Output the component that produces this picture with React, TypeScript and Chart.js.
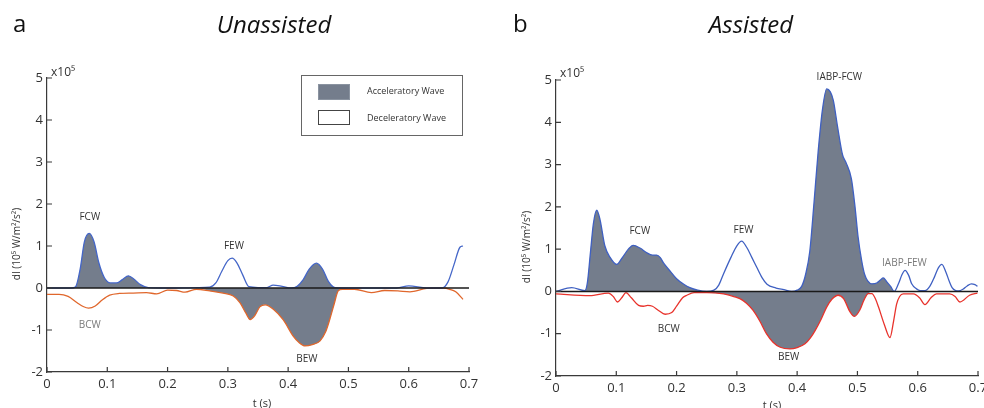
import React, { useEffect, useRef } from "react";
import { Chart, registerables } from "chart.js";

Chart.register(...registerables);

const FONT = '"Open Sans", "Noto Sans", "DejaVu Sans", sans-serif';
const FILL = "rgb(116,125,140)";
const TEXT = "#333333";

// ---------- Panel a : Unassisted ----------
const tForwardA = [0, 0.04, 0.047, 0.055, 0.062, 0.07, 0.078, 0.086, 0.095, 0.105, 0.115, 0.125, 0.135, 0.145, 0.155, 0.168, 0.2, 0.25, 0.27, 0.28, 0.29, 0.3, 0.307, 0.315, 0.325, 0.335, 0.35, 0.365, 0.375, 0.39, 0.405, 0.415, 0.425, 0.435, 0.447, 0.457, 0.467, 0.478, 0.5, 0.58, 0.6, 0.63, 0.655, 0.665, 0.675, 0.685, 0.69];
const dIForwardA = [0, 0, 0.02, 0.45, 1.1, 1.3, 1.1, 0.6, 0.25, 0.12, 0.12, 0.2, 0.29, 0.2, 0.08, 0.01, 0, 0.01, 0.02, 0.12, 0.4, 0.65, 0.71, 0.6, 0.3, 0.03, 0.01, 0.01, 0.07, 0.04, 0, 0.04, 0.2, 0.45, 0.59, 0.45, 0.15, 0.01, 0, 0, 0.05, 0, 0, 0.14, 0.55, 0.97, 1.0];
const tBackwardA = [0, 0.02, 0.035, 0.05, 0.06, 0.069, 0.08, 0.092, 0.104, 0.12, 0.143, 0.165, 0.182, 0.2, 0.215, 0.229, 0.248, 0.27, 0.292, 0.309, 0.32, 0.33, 0.337, 0.345, 0.353, 0.362, 0.375, 0.392, 0.409, 0.418, 0.428, 0.44, 0.453, 0.462, 0.469, 0.476, 0.483, 0.49, 0.51, 0.538, 0.56, 0.582, 0.602, 0.63, 0.658, 0.668, 0.678, 0.69];
const dIBackwardA = [-0.15, -0.15, -0.2, -0.35, -0.44, -0.48, -0.43, -0.28, -0.17, -0.13, -0.12, -0.11, -0.14, -0.05, -0.06, -0.1, -0.03, -0.07, -0.12, -0.19, -0.35, -0.6, -0.75, -0.65, -0.45, -0.4, -0.5, -0.76, -1.16, -1.3, -1.38, -1.35, -1.26, -1.05, -0.75, -0.4, -0.07, -0.03, -0.03, -0.11, -0.06, -0.07, -0.09, -0.01, 0, -0.03, -0.09, -0.27];
const accelForwardA = [[0.04, 0.168], [0.405, 0.5]];
const accelBackwardA = [[0.27, 0.49]];

// ---------- Panel b : Assisted ----------
const tForwardB = [0, 0.026, 0.048, 0.052, 0.057, 0.062, 0.0675, 0.073, 0.081, 0.09, 0.1007, 0.11, 0.12, 0.128, 0.14, 0.15, 0.16, 0.167, 0.173, 0.178, 0.19, 0.2, 0.212, 0.222, 0.235, 0.25, 0.262, 0.27, 0.278, 0.29, 0.3, 0.308, 0.316, 0.325, 0.333, 0.342, 0.35, 0.365, 0.378, 0.391, 0.4, 0.4075, 0.414, 0.421, 0.428, 0.435, 0.442, 0.449, 0.455, 0.46, 0.467, 0.4755, 0.481, 0.49, 0.496, 0.501, 0.507, 0.512, 0.517, 0.524, 0.532, 0.538, 0.543, 0.548, 0.555, 0.561, 0.568, 0.574, 0.579, 0.585, 0.59, 0.598, 0.604, 0.612, 0.62, 0.628, 0.634, 0.64, 0.647, 0.652, 0.657, 0.663, 0.668, 0.675, 0.682, 0.689, 0.695, 0.699];
const dIForwardB = [0, 0.09, 0.02, 0.2, 0.9, 1.6, 1.92, 1.7, 1.08, 0.8, 0.64, 0.8, 1.0, 1.09, 1.02, 0.92, 0.86, 0.86, 0.8, 0.68, 0.47, 0.3, 0.17, 0.09, 0.03, 0, 0.03, 0.15, 0.42, 0.8, 1.08, 1.19, 1.05, 0.8, 0.57, 0.32, 0.17, 0.08, 0.04, 0, 0.03, 0.12, 0.4, 0.95, 2.1, 3.33, 4.3, 4.79, 4.72, 4.52, 3.9, 3.22, 3.05, 2.66, 2.0, 1.3, 0.73, 0.4, 0.25, 0.18, 0.2, 0.27, 0.32, 0.24, 0.12, 0, 0.18, 0.4, 0.5, 0.38, 0.18, 0.06, 0.02, 0.02, 0.12, 0.35, 0.55, 0.64, 0.45, 0.25, 0.09, 0.02, 0.01, 0.05, 0.13, 0.18, 0.16, 0.12];
const tBackwardB = [0, 0.056, 0.087, 0.095, 0.102, 0.109, 0.116, 0.125, 0.137, 0.145, 0.152, 0.16, 0.17, 0.181, 0.192, 0.2, 0.21, 0.217, 0.229, 0.25, 0.278, 0.295, 0.305, 0.316, 0.327, 0.338, 0.349, 0.36, 0.372, 0.388, 0.4, 0.413, 0.422, 0.43, 0.44, 0.449, 0.458, 0.468, 0.477, 0.488, 0.495, 0.504, 0.511, 0.518, 0.524, 0.53, 0.535, 0.545, 0.554, 0.56, 0.565, 0.57, 0.576, 0.593, 0.603, 0.612, 0.622, 0.631, 0.653, 0.662, 0.67, 0.686, 0.699];
const dIBackwardB = [-0.06, -0.1, -0.04, -0.12, -0.25, -0.15, -0.03, -0.15, -0.33, -0.35, -0.33, -0.35, -0.45, -0.54, -0.5, -0.35, -0.15, -0.09, -0.03, -0.03, -0.06, -0.12, -0.17, -0.28, -0.45, -0.7, -1.0, -1.2, -1.32, -1.36, -1.33, -1.24, -1.1, -0.92, -0.65, -0.37, -0.18, -0.09, -0.17, -0.49, -0.59, -0.44, -0.2, -0.05, -0.05, -0.18, -0.37, -0.8, -1.09, -0.7, -0.3, -0.12, -0.06, -0.06, -0.15, -0.31, -0.15, -0.06, -0.06, -0.12, -0.25, -0.09, -0.04];
const accelForwardB = [[0.048, 0.25], [0.391, 0.561]];
const accelBackwardB = [[0.25, 0.518]];

// axis ranges / tick labels
const X_MIN = 0, X_MAX = 0.7, X_STEP = 0.1;
const Y_MIN = -2, Y_MAX = 5, Y_STEP = 1;
const yAxisTitle = "dI (10\u2075 W/m\u00B2/s\u00B2)";
const xAxisTitle = "t (s)";
const multiplierLabel = "x10\u2075";
const legendLabels = ["Acceleratory Wave", "Deceleratory Wave"];

const annotationsA = [
  { text: "FCW", t: 0.071, v: 1.69, color: TEXT },
  { text: "FEW", t: 0.31, v: 1.0, color: TEXT },
  { text: "BCW", t: 0.071, v: -0.88, color: "#7a7a7a" },
  { text: "BEW", t: 0.431, v: -1.69, color: TEXT },
];
const annotationsB = [
  { text: "FCW", t: 0.139, v: 1.42, color: TEXT },
  { text: "FEW", t: 0.311, v: 1.44, color: TEXT },
  { text: "IABP-FCW", t: 0.47, v: 5.06, color: TEXT },
  { text: "IABP-FEW", t: 0.578, v: 0.66, color: "#7a7a7a" },
  { text: "BCW", t: 0.187, v: -0.9, color: TEXT },
  { text: "BEW", t: 0.386, v: -1.56, color: TEXT },
];

type Panel = {
  left: number; width: number; padRight: number; top: number; bottomH: number; yAxisW: number;
  letter: string; letterX: number; title: string; titleX: number;
  yTitleX: number; yTitleY: number; multX: number; multY: number; tX: number; tY: number;
  tF: number[]; vF: number[]; tB: number[]; vB: number[];
  accF: number[][]; accB: number[][];
  colF: string; colB: string;
  notes: { text: string; t: number; v: number; color: string }[];
  legend: boolean;
};

const panels: Panel[] = [
  {
    left: 0, width: 490, padRight: 21, top: 78, bottomH: 36, yAxisW: 47,
    letter: "a", letterX: 13, title: "Unassisted", titleX: 274,
    yTitleX: 17, yTitleY: 244, multX: 51, multY: 76, tX: 262, tY: 404,
    tF: tForwardA, vF: dIForwardA, tB: tBackwardA, vB: dIBackwardA,
    accF: accelForwardA, accB: accelBackwardA,
    colF: "#4466c8", colB: "#e0672c",
    notes: annotationsA, legend: true,
  },
  {
    left: 490, width: 530, padRight: 42, top: 80, bottomH: 32, yAxisW: 66,
    letter: "b", letterX: 23, title: "Assisted", titleX: 261,
    yTitleX: 37, yTitleY: 247, multX: 70, multY: 77, tX: 282, tY: 406,
    tF: tForwardB, vF: dIForwardB, tB: tBackwardB, vB: dIBackwardB,
    accF: accelForwardB, accB: accelBackwardB,
    colF: "#3f60c2", colB: "#e8332c",
    notes: annotationsB, legend: false,
  },
];

function points(ts: number[], vs: number[]) {
  return ts.map((t, i) => ({ x: t, y: vs[i] }));
}
function masked(ts: number[], vs: number[], intervals: number[][]) {
  return ts.map((t, i) => ({
    x: t,
    y: intervals.some(([a, b]) => t >= a - 1e-9 && t <= b + 1e-9) ? vs[i] : 0,
  }));
}

function decor(p: Panel) {
  return {
    id: "decor" + p.letter,
    afterDatasetsDraw(chart: any) {
      const { ctx, chartArea } = chart;
      const y = chart.scales.y;
      ctx.save();
      ctx.strokeStyle = "#1a1a1a";
      ctx.lineWidth = 1.5;
      ctx.beginPath();
      const y0 = y.getPixelForValue(0);
      ctx.moveTo(chartArea.left, y0);
      ctx.lineTo(chartArea.right, y0);
      ctx.stroke();
      ctx.restore();
    },
    afterDraw(chart: any) {
      const { ctx, chartArea } = chart;
      const xs = chart.scales.x;
      const ys = chart.scales.y;
      ctx.save();
      // inward tick marks
      ctx.strokeStyle = "#3a3a3a";
      ctx.lineWidth = 1.2;
      ctx.beginPath();
      xs.ticks.forEach((tk: any) => {
        const px = xs.getPixelForValue(tk.value);
        ctx.moveTo(px, chartArea.bottom);
        ctx.lineTo(px, chartArea.bottom - 5);
      });
      ys.ticks.forEach((tk: any) => {
        const py = ys.getPixelForValue(tk.value);
        ctx.moveTo(chartArea.left, py);
        ctx.lineTo(chartArea.left + 5, py);
      });
      ctx.stroke();

      // annotations
      ctx.font = `10px ${FONT}`;
      ctx.textAlign = "center";
      ctx.textBaseline = "middle";
      p.notes.forEach((n) => {
        ctx.fillStyle = n.color;
        ctx.fillText(n.text, xs.getPixelForValue(n.t), ys.getPixelForValue(n.v));
      });

      // axis titles
      ctx.fillStyle = TEXT;
      ctx.font = `11px ${FONT}`;
      ctx.fillText(xAxisTitle, p.tX, p.tY);
      ctx.save();
      ctx.translate(p.yTitleX, p.yTitleY);
      ctx.rotate(-Math.PI / 2);
      ctx.font = `10px ${FONT}`;
      ctx.fillText(yAxisTitle, 0, 0);
      ctx.restore();

      ctx.textAlign = "left";
      ctx.textBaseline = "alphabetic";
      ctx.font = `12px ${FONT}`;
      ctx.fillText(multiplierLabel, p.multX, p.multY);

      // panel letter and title
      ctx.fillStyle = "#111";
      ctx.font = `24px ${FONT}`;
      ctx.fillText(p.letter, p.letterX, 32);
      ctx.textAlign = "center";
      ctx.font = `italic 24px ${FONT}`;
      ctx.fillText(p.title, p.titleX, 33);

      // legend box
      if (p.legend) {
        ctx.strokeStyle = "#666";
        ctx.lineWidth = 1;
        ctx.strokeRect(301.5, 75.5, 161, 60);
        ctx.fillStyle = FILL;
        ctx.fillRect(318, 84, 31, 15);
        ctx.strokeStyle = "#8a93a0";
        ctx.strokeRect(318.5, 84.5, 31, 15);
        ctx.fillStyle = "#fff";
        ctx.fillRect(318, 110, 31, 14);
        ctx.strokeStyle = "#444";
        ctx.strokeRect(318.5, 110.5, 31, 14);
        ctx.fillStyle = TEXT;
        ctx.font = `9px ${FONT}`;
        ctx.textAlign = "left";
        ctx.textBaseline = "middle";
        ctx.fillText(legendLabels[0], 367, 91);
        ctx.fillText(legendLabels[1], 367, 118);
      }
      ctx.restore();
    },
  };
}

function fmt(v: number) {
  return String(Number(v.toFixed(1)));
}

function PanelChart({ p }: { p: Panel }) {
  const ref = useRef<HTMLCanvasElement | null>(null);
  useEffect(() => {
    if (!ref.current) return;
    const lineCommon = { pointRadius: 0, cubicInterpolationMode: "monotone" as const, fill: false };
    const chart = new Chart(ref.current, {
      type: "line",
      data: {
        datasets: [
          { data: masked(p.tF, p.vF, p.accF), fill: "origin", backgroundColor: FILL, borderColor: "rgba(0,0,0,0)", borderWidth: 0, pointRadius: 0, cubicInterpolationMode: "monotone", order: 3 },
          { data: masked(p.tB, p.vB, p.accB), fill: "origin", backgroundColor: FILL, borderColor: "rgba(0,0,0,0)", borderWidth: 0, pointRadius: 0, cubicInterpolationMode: "monotone", order: 3 },
          { data: points(p.tF, p.vF), borderColor: p.colF, borderWidth: 1.3, ...lineCommon, order: 1 },
          { data: points(p.tB, p.vB), borderColor: p.colB, borderWidth: 1.3, ...lineCommon, order: 1 },
        ],
      } as any,
      options: {
        responsive: false,
        animation: false,
        maintainAspectRatio: false,
        layout: { padding: { left: 0, right: p.padRight, top: p.top, bottom: 0 } },
        plugins: { legend: { display: false }, tooltip: { enabled: false } },
        scales: {
          x: {
            type: "linear", min: X_MIN, max: X_MAX,
            ticks: { stepSize: X_STEP, padding: 4, color: TEXT, font: { family: FONT, size: 13 }, maxRotation: 0, autoSkip: false, callback: (v: any) => fmt(Number(v)) },
            grid: { display: false, drawTicks: false },
            border: { display: true, color: "#3a3a3a", width: 1.2 },
            afterFit: (s: any) => { s.height = p.bottomH; },
          },
          y: {
            type: "linear", min: Y_MIN, max: Y_MAX,
            ticks: { stepSize: Y_STEP, padding: 4, color: TEXT, font: { family: FONT, size: 13 }, callback: (v: any) => fmt(Number(v)) },
            grid: { display: false, drawTicks: false },
            border: { display: true, color: "#3a3a3a", width: 1.2 },
            afterFit: (s: any) => { s.width = p.yAxisW; },
          },
        },
      } as any,
      plugins: [decor(p)],
    });
    return () => chart.destroy();
  }, [p]);
  return (
    <canvas
      ref={ref}
      width={p.width}
      height={408}
      style={{ position: "absolute", left: p.left, top: 0, width: p.width, height: 408, display: "block" }}
    />
  );
}

export default function App() {
  return (
    <div style={{ position: "fixed", left: 0, top: 0, width: 984, height: 408, overflow: "hidden", background: "#fff" }}>
      {panels.map((p) => (
        <PanelChart key={p.letter} p={p} />
      ))}
    </div>
  );
}
